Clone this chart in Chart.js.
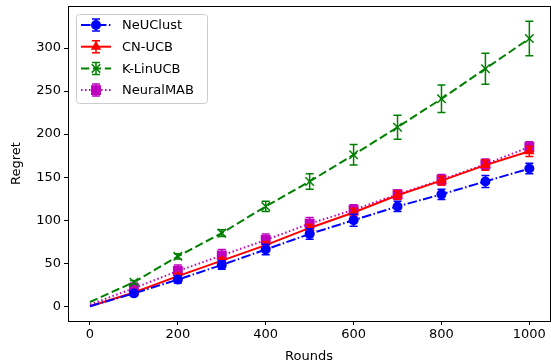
<!DOCTYPE html>
<html lang="en">
<head>
  <meta charset="UTF-8">
  <title>Regret vs Rounds</title>
  <script src="https://cdn.jsdelivr.net/npm/chart.js"></script>
  <style>
    body { margin: 0; background: #fff; }
    #wrap { width: 551px; height: 364px; }
  </style>
</head>
<body>
  <div id="wrap"><canvas id="regretChart" width="551" height="364"></canvas></div>

  <script>
    const rounds = [0, 100, 200, 300, 400, 500, 600, 700, 800, 900, 1000];
    const xTicks = [0, 200, 400, 600, 800, 1000];
    const yTicks = [0, 50, 100, 150, 200, 250, 300];

    const neuclust = [0, 15, 31, 48, 66, 84, 100, 116, 130, 145, 160];
    const neuclustErr = [0, 3, 4, 5, 6, 6, 7, 6, 6, 7, 6];
    const cnucb = [0, 16, 35, 53, 71, 91, 109, 129, 146, 164, 180];
    const cnucbErr = [0, 2, 3, 3, 4, 4, 5, 5, 5, 6, 6];
    const klinucb = [5, 28, 58, 85, 116, 145, 176, 208, 241, 276, 311];
    const klinucbErr = [0, 2, 3, 4, 6, 9, 12, 14, 16, 18, 20];
    const neuralmab = [2, 21, 41, 59, 77, 96, 112, 130, 147, 165, 185];
    const neuralmabErr = [0, 6, 7, 7, 7, 7, 6, 5, 6, 6, 6];

    const font = "'DejaVu Sans', sans-serif";

    const series = [
      { label: "NeUClust", y: neuclust, err: neuclustErr, color: "#0000ff", dash: [9.6, 2.4, 1.5, 2.4], style: "circle", r: 5 },
      { label: "CN-UCB", y: cnucb, err: cnucbErr, color: "#ff0000", dash: [], style: "triangle", r: 6 },
      { label: "K-LinUCB", y: klinucb, err: klinucbErr, color: "#008000", dash: [8.3, 3.6], style: "crossRot", r: 6 },
      { label: "NeuralMAB", y: neuralmab, err: neuralmabErr, color: "#bf00bf", dash: [1.5, 2.5], style: "rect", r: 7 }
    ];

    const datasets = series.map(s => ({
      label: s.label,
      data: rounds.map((r, i) => ({ x: r, y: s.y[i] })),
      errors: s.err,
      borderColor: s.color,
      backgroundColor: s.color,
      borderWidth: 2,
      borderDash: s.dash,
      pointStyle: s.style,
      pointRadius: rounds.map(r => r === 0 ? 0 : s.r),
      pointBorderWidth: s.style === "crossRot" ? 1.5 : 0,
      pointBackgroundColor: s.color,
      pointBorderColor: s.color,
      tension: 0,
      fill: false
    }));

    // error bars drawn through the scales
    const errorBars = {
      id: "errorBars",
      afterDatasetDraw(chart, args) {
        const ds = chart.data.datasets[args.index];
        if (!ds.errors) return;
        const { ctx, scales: { x, y } } = chart;
        ctx.save();
        ctx.strokeStyle = ds.borderColor;
        ctx.lineWidth = 1.5;
        ctx.setLineDash([]);
        ds.data.forEach((p, i) => {
          const e = ds.errors[i];
          if (!e) return;
          const px = x.getPixelForValue(p.x);
          const top = y.getPixelForValue(p.y + e);
          const bot = y.getPixelForValue(p.y - e);
          ctx.beginPath();
          ctx.moveTo(px, top); ctx.lineTo(px, bot);
          ctx.moveTo(px - 4, top); ctx.lineTo(px + 4, top);
          ctx.moveTo(px - 4, bot); ctx.lineTo(px + 4, bot);
          ctx.stroke();
        });
        ctx.restore();
      }
    };

    const frame = {
      id: "frame",
      afterDraw(chart) {
        const { ctx, chartArea: a } = chart;
        ctx.save();
        ctx.strokeStyle = "#000";
        ctx.lineWidth = 1;
        ctx.strokeRect(Math.round(a.left) + 0.5, Math.round(a.top) + 0.5,
          Math.round(a.right - a.left), Math.round(a.bottom - a.top));
        ctx.restore();
      }
    };

    const legendBox = {
      id: "legendBox",
      afterDraw(chart) {
        const ctx = chart.ctx;
        const bx = 76, by = 14, bw = 131, bh = 89;
        ctx.save();
        ctx.fillStyle = "rgba(255,255,255,0.8)";
        ctx.strokeStyle = "#cccccc";
        ctx.lineWidth = 1;
        ctx.beginPath();
        ctx.roundRect(bx + 0.5, by + 0.5, bw, bh, 3);
        ctx.fill();
        ctx.stroke();
        series.forEach((s, i) => {
          const ry = 25 + i * 21.7;
          const cx = 96;
          ctx.strokeStyle = s.color;
          ctx.fillStyle = s.color;
          ctx.lineWidth = 2;
          ctx.setLineDash(s.dash);
          ctx.beginPath();
          ctx.moveTo(81, ry); ctx.lineTo(111, ry);
          ctx.stroke();
          ctx.setLineDash([]);
          ctx.lineWidth = 1.5;
          ctx.beginPath();
          ctx.moveTo(cx, ry - 6); ctx.lineTo(cx, ry + 6);
          ctx.moveTo(cx - 4, ry - 6); ctx.lineTo(cx + 4, ry - 6);
          ctx.moveTo(cx - 4, ry + 6); ctx.lineTo(cx + 4, ry + 6);
          ctx.stroke();
          Chart.helpers.drawPoint(ctx, {
            pointStyle: s.style,
            radius: s.r,
            borderWidth: s.style === "crossRot" ? 1.5 : 0
          }, cx, ry);
          ctx.fillStyle = "#000";
          ctx.font = "13px " + font;
          ctx.textBaseline = "middle";
          ctx.fillText(s.label, 122, ry + 1);
        });
        ctx.restore();
      }
    };

    new Chart(document.getElementById("regretChart"), {
      type: "line",
      data: { datasets: datasets },
      plugins: [errorBars, frame, legendBox],
      options: {
        responsive: false,
        animation: false,
        layout: { autoPadding: false, padding: { top: 6, right: 1, left: 0, bottom: 0 } },
        plugins: { legend: { display: false }, tooltip: { enabled: false } },
        scales: {
          x: {
            type: "linear",
            min: -50,
            max: 1047,
            afterBuildTicks: s => { s.ticks = xTicks.map(v => ({ value: v })); },
            afterFit: s => { s.height = 43; s.paddingLeft = 0; s.paddingRight = 0; },
            grid: { drawOnChartArea: false, color: "#000", tickLength: 4, tickWidth: 1 },
            border: { display: false },
            ticks: { color: "#000", font: { family: font, size: 13 }, padding: 2, maxRotation: 0, callback: v => String(v) },
            title: { display: true, text: "Rounds", color: "#000", font: { family: font, size: 13 }, padding: { top: 0, bottom: 0 } }
          },
          y: {
            type: "linear",
            min: -17.1,
            max: 348.8,
            afterBuildTicks: s => { s.ticks = yTicks.map(v => ({ value: v })); },
            afterFit: s => { s.width = 68; s.paddingTop = 0; s.paddingBottom = 0; },
            grid: { drawOnChartArea: false, color: "#000", tickLength: 4, tickWidth: 1 },
            border: { display: false },
            ticks: { color: "#000", font: { family: font, size: 13 }, padding: 3, callback: v => String(v) },
            title: { display: true, text: "Regret", color: "#000", font: { family: font, size: 13 }, padding: { top: 9, bottom: 0 } }
          }
        }
      }
    });
  </script>
</body>
</html>
